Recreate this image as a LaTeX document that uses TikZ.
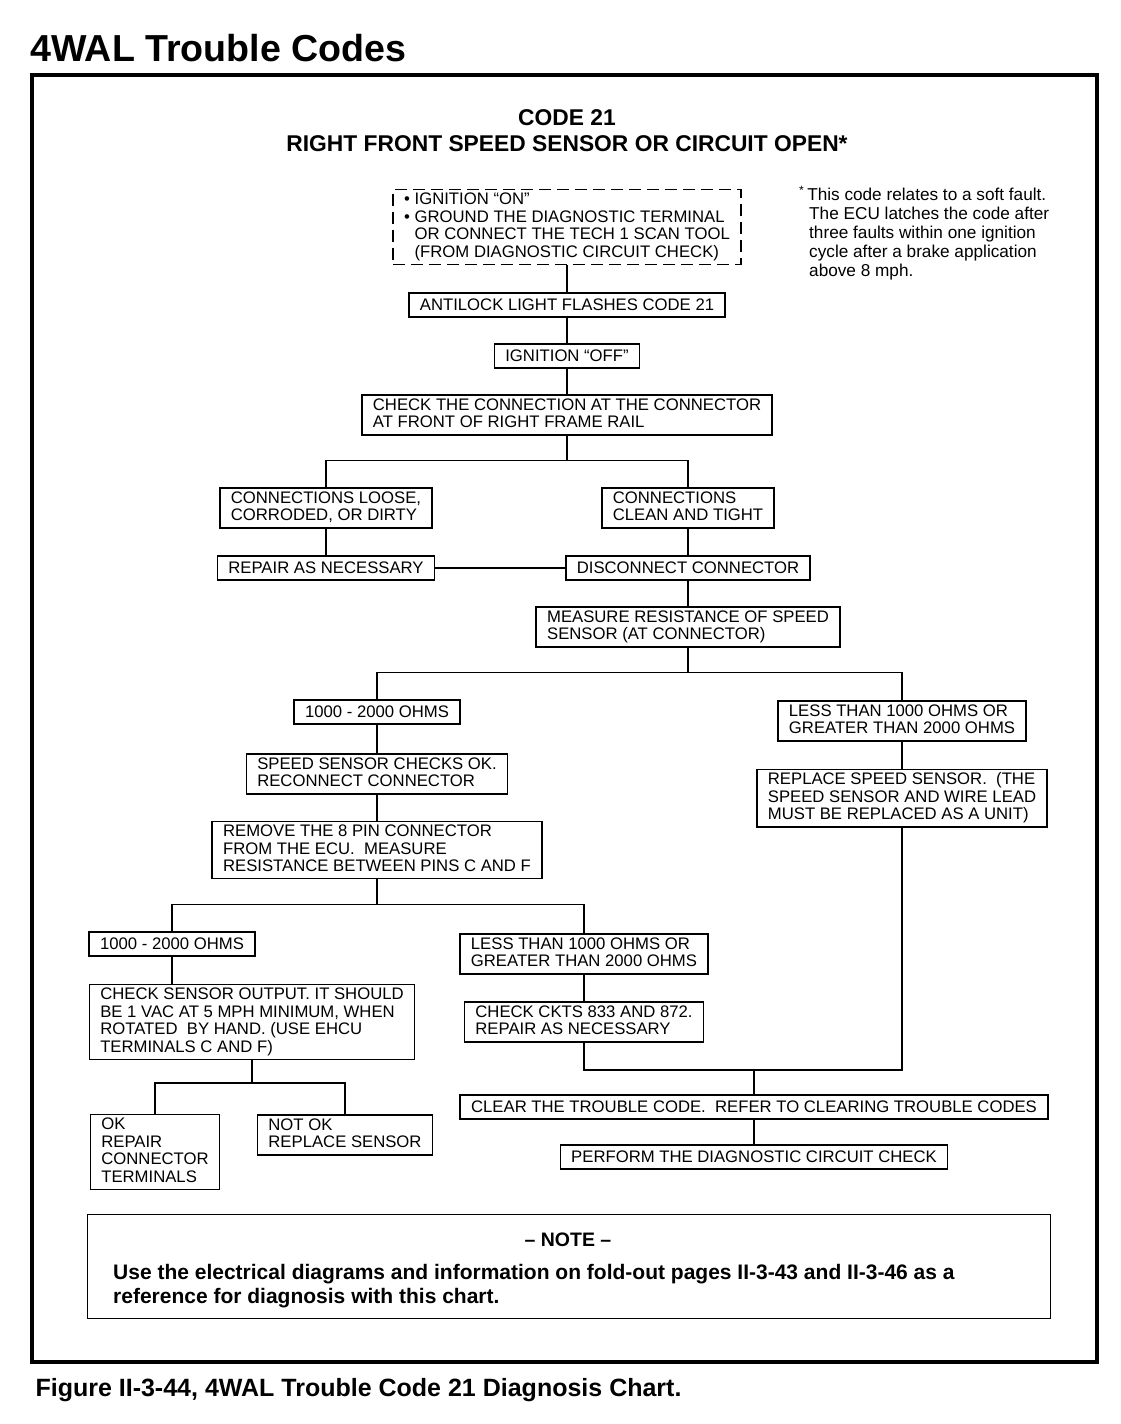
\documentclass[tikz,border=0pt]{standalone}
\usepackage{fontspec}
\setmainfont{Liberation Sans}
\newcommand\boxstrut{\rule[-3.5pt]{0pt}{17pt}}

\tikzset{
  stepbox/.style={draw, line width=1.4pt, inner xsep=11pt, inner ysep=3.5pt, align=left,
    font=\fontsize{16.7}{17.5}\selectfont,
    execute at begin node=\boxstrut, execute at end node=\boxstrut},
  startbox/.style={stepbox, dash pattern=on 12pt off 6pt},
  wire/.style={line width=1.4pt},
}

\begin{document}
\begin{tikzpicture}[x=1pt,y=-1pt]
\useasboundingbox (0,0) rectangle (1120,1424);
\node[anchor=base west, font=\bfseries\fontsize{37.6}{40}\selectfont] (title) at (27,61) {4WAL Trouble Codes};
\draw[line width=4pt] (32,75) rectangle (1097,1362);
\node[align=center, font=\bfseries\fontsize{22.8}{26}\selectfont] (head) at (567,131)
  {CODE 21\\RIGHT FRONT SPEED SENSOR OR CIRCUIT OPEN*};
% footnote
\node[anchor=north west, align=left, inner sep=0pt, font=\fontsize{17.2}{19}\selectfont] (foot) at (799,186)
  {\textsuperscript{*}\,This code relates to a soft fault.\\
   \hspace*{10pt}The ECU latches the code after\\
   \hspace*{10pt}three faults within one ignition\\
   \hspace*{10pt}cycle after a brake application\\
   \hspace*{10pt}above 8 mph.};
% steps
\node[startbox] (start) at (567,227) {\textbullet\ IGNITION “ON”\\
  \textbullet\ GROUND THE DIAGNOSTIC TERMINAL\\
  \phantom{\textbullet\ }OR CONNECT THE TECH 1 SCAN TOOL\\
  \phantom{\textbullet\ }(FROM DIAGNOSTIC CIRCUIT CHECK)};
\node[stepbox] (flash) at (567,305) {ANTILOCK LIGHT FLASHES CODE 21};
\node[stepbox] (ignoff) at (567,356) {IGNITION “OFF”};
\node[stepbox] (chkconn) at (567,415) {CHECK THE CONNECTION AT THE CONNECTOR\\AT FRONT OF RIGHT FRAME RAIL};
\node[stepbox] (loose) at (326,508) {CONNECTIONS LOOSE,\\CORRODED, OR DIRTY};
\node[stepbox] (clean) at (688,508) {CONNECTIONS\\CLEAN AND TIGHT};
\node[stepbox] (repair) at (326,568) {REPAIR AS NECESSARY};
\node[stepbox] (disconn) at (688,568) {DISCONNECT CONNECTOR};
\node[stepbox] (measure) at (688,627) {MEASURE RESISTANCE OF SPEED\\SENSOR (AT CONNECTOR)};
\node[stepbox] (okohms) at (377,712) {1000 - 2000 OHMS};
\node[stepbox] (badohms) at (902,721) {LESS THAN 1000 OHMS OR\\GREATER THAN 2000 OHMS};
\node[stepbox] (sensok) at (377,774) {SPEED SENSOR CHECKS OK.\\RECONNECT CONNECTOR};
\node[stepbox] (replace) at (902,798) {REPLACE SPEED SENSOR.\ \ (THE\\SPEED SENSOR AND WIRE LEAD\\MUST BE REPLACED AS A UNIT)};
\node[stepbox] (ecupins) at (377,850) {REMOVE THE 8 PIN CONNECTOR\\FROM THE ECU.\ \ MEASURE\\RESISTANCE BETWEEN PINS C AND F};
\node[stepbox] (pinsok) at (172,944) {1000 - 2000 OHMS};
\node[stepbox] (pinsbad) at (584,954) {LESS THAN 1000 OHMS OR\\GREATER THAN 2000 OHMS};
\node[stepbox] (output) at (252,1022) {CHECK SENSOR OUTPUT. IT SHOULD\\BE 1 VAC AT 5 MPH MINIMUM, WHEN\\ROTATED\ \ BY HAND. (USE EHCU\\TERMINALS C AND F)};
\node[stepbox] (ckts) at (584,1022) {CHECK CKTS 833 AND 872.\\REPAIR AS NECESSARY};
\node[stepbox] (outok) at (155,1152) {OK\\REPAIR\\CONNECTOR\\TERMINALS};
\node[stepbox] (outbad) at (345,1135) {NOT OK\\REPLACE SENSOR};
\node[stepbox] (clear) at (754,1107) {CLEAR THE TROUBLE CODE.\ \ REFER TO CLEARING TROUBLE CODES};
\node[stepbox] (diag) at (754,1157) {PERFORM THE DIAGNOSTIC CIRCUIT CHECK};
\coordinate (merge) at (754,1070);
% connectors
\draw[wire] (start) -- (flash);
\draw[wire] (flash) -- (ignoff);
\draw[wire] (ignoff) -- (chkconn);
\draw[wire] (chkconn.south) -- ++(0,25) coordinate (fork1);
\draw[wire] (loose.north) |- (fork1) -| (clean.north);
\draw[wire] (loose) -- (repair);
\draw[wire] (clean) -- (disconn);
\draw[wire] (repair) -- (disconn);
\draw[wire] (disconn) -- (measure);
\draw[wire] (measure.south) -- ++(0,25) coordinate (fork2);
\draw[wire] (okohms.north) |- (fork2) -| (badohms.north);
\draw[wire] (okohms) -- (sensok);
\draw[wire] (sensok) -- (ecupins);
\draw[wire] (badohms) -- (replace);
\draw[wire] (ecupins.south) -- ++(0,25) coordinate (fork3);
\draw[wire] (pinsok.north) |- (fork3) -| (pinsbad.north);
\draw[wire] (pinsok) -- (pinsok |- output.north);
\draw[wire] (pinsbad) -- (ckts);
\draw[wire] (output.south) -- ++(0,23) coordinate (fork4);
\draw[wire] (outok.north) |- (fork4) -| (outbad.north);
\draw[wire] (ckts.south) |- (merge -| replace.south) -- (replace.south);
\draw[wire] (merge) -- (clear);
\draw[wire] (clear) -- (diag);
% note
\draw[line width=1pt] (87,1214) rectangle (1050,1318);
\node[font=\bfseries\fontsize{19.5}{24}\selectfont] (notehead) at (568,1240) {– NOTE –};
\node[anchor=north west, align=left, inner sep=0pt, font=\bfseries\fontsize{21}{24}\selectfont] (notebody) at (113,1264)
  {Use the electrical diagrams and information on fold-out pages II-3-43 and II-3-46 as a\\
   reference for diagnosis with this chart.};
\node[anchor=base west, font=\bfseries\fontsize{25}{28}\selectfont] (caption) at (32,1396)
  {Figure II-3-44, 4WAL Trouble Code 21 Diagnosis Chart.};
\end{tikzpicture}
\end{document}
